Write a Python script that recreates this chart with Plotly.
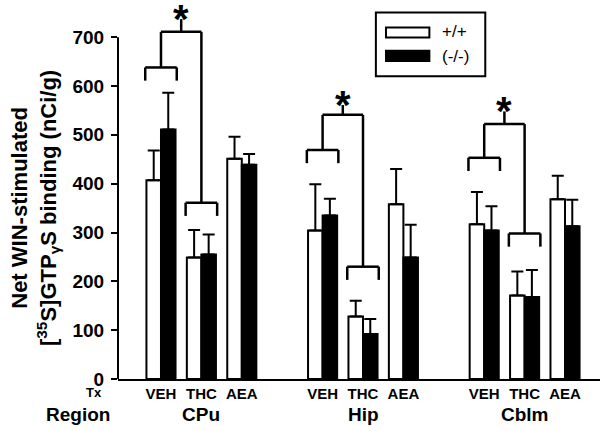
import plotly.graph_objects as go

regions = ["CPu", "Hip", "Cblm"]
treatments = ["VEH", "THC", "AEA"]
wt_mean = [407, 249, 451, 304, 128, 358, 317, 171, 368]
wt_sem = [61, 56, 45, 95, 32, 72, 66, 49, 48]
ko_mean = [511, 255, 439, 335, 92, 249, 304, 168, 313]
ko_sem = [75, 41, 22, 34, 31, 67, 50, 55, 54]
# significance bracket heights per region (data units)
veh_bracket = [638, 469, 453]
thc_bracket = [361, 230, 298]
top_bracket = [711, 541, 522]
star_y = [737, 561, 548]
y_ticks = [0, 100, 200, 300, 400, 500, 600, 700]

FONT = "Liberation Sans, Arial, sans-serif"
xpos = [g * 4 + t for g in range(len(regions)) for t in range(len(treatments))]
ticktext = [t for _ in regions for t in treatments]
W = 0.36

fig = go.Figure()
fig.add_trace(go.Bar(
    x=xpos, y=wt_mean, width=W, offset=-W, name="+/+",
    marker=dict(color="white", line=dict(color="black", width=2)),
    error_y=dict(type="data", array=wt_sem, arrayminus=[0] * len(wt_sem),
                 symmetric=False, color="black", thickness=2, width=6),
    showlegend=False))
fig.add_trace(go.Bar(
    x=xpos, y=ko_mean, width=W, offset=0, name="(-/-)",
    marker=dict(color="black", line=dict(color="black", width=2)),
    error_y=dict(type="data", array=ko_sem, arrayminus=[0] * len(ko_sem),
                 symmetric=False, color="black", thickness=2, width=6),
    showlegend=False))

shapes = []
LW = 2.5
HW = 0.39
LEG = 27


def seg(x0, y0, x1, y1, w=LW):
    shapes.append(dict(type="line", xref="x", yref="y", x0=x0, y0=y0, x1=x1, y1=y1,
                       line=dict(color="black", width=w), layer="above"))


for g in range(len(regions)):
    xv = g * 4
    xt = g * 4 + 1
    # VEH bracket
    seg(xv - HW, veh_bracket[g], xv + HW, veh_bracket[g])
    seg(xv - HW, veh_bracket[g], xv - HW, veh_bracket[g] - LEG)
    seg(xv + HW, veh_bracket[g], xv + HW, veh_bracket[g] - LEG)
    # THC bracket
    seg(xt - HW, thc_bracket[g], xt + HW, thc_bracket[g])
    seg(xt - HW, thc_bracket[g], xt - HW, thc_bracket[g] - LEG)
    seg(xt + HW, thc_bracket[g], xt + HW, thc_bracket[g] - LEG)
    # connecting bracket
    seg(xv, veh_bracket[g], xv, top_bracket[g])
    seg(xt, thc_bracket[g], xt, top_bracket[g])
    seg(xv, top_bracket[g], xt, top_bracket[g])
    seg((xv + xt) / 2, top_bracket[g], (xv + xt) / 2, star_y[g])

# y axis line from 0 to 700 only
shapes.append(dict(type="line", xref="paper", yref="y", x0=0, x1=0, y0=0, y1=700,
                   line=dict(color="black", width=2)))

# legend box (manual)
shapes.append(dict(type="rect", xref="paper", yref="paper", x0=0.535, x1=0.762,
                   y0=0.805, y1=0.975, line=dict(color="black", width=2),
                   fillcolor="white"))
shapes.append(dict(type="rect", xref="paper", yref="paper", x0=0.556, x1=0.646,
                   y0=0.908, y1=0.935, line=dict(color="black", width=2),
                   fillcolor="white"))
shapes.append(dict(type="rect", xref="paper", yref="paper", x0=0.556, x1=0.646,
                   y0=0.846, y1=0.873, line=dict(color="black", width=2),
                   fillcolor="black"))

annotations = []
for g in range(len(regions)):
    annotations.append(dict(x=g * 4 + 0.5, y=star_y[g], xref="x", yref="y",
                            text="*", showarrow=False, yanchor="middle", yshift=0,
                            font=dict(family=FONT, size=40, color="black", weight="bold")))
    annotations.append(dict(x=g * 4 + 1, y=-0.0957, xref="x", yref="paper",
                            text=regions[g], showarrow=False, yanchor="middle",
                            font=dict(family=FONT, size=19, color="black", weight="bold")))

annotations += [
    dict(x=0.668, y=0.923, xref="paper", yref="paper", text="+/+", showarrow=False,
         xanchor="left", yanchor="middle", font=dict(family=FONT, size=17, color="black")),
    dict(x=0.668, y=0.859, xref="paper", yref="paper", text="(-/-)", showarrow=False,
         xanchor="left", yanchor="middle", font=dict(family=FONT, size=17, color="black")),
    dict(x=-0.1535, y=-0.0957, xref="paper", yref="paper", text="Region", showarrow=False,
         yanchor="middle", font=dict(family=FONT, size=19, color="black", weight="bold")),
    dict(x=-0.0705, y=-0.037, xref="paper", yref="paper", text="Tx", showarrow=False,
         yanchor="middle", font=dict(family=FONT, size=13, color="black", weight="bold")),
    dict(x=-0.172, y=0.455, xref="paper", yref="paper", textangle=-90,
         text="Net WIN-stimulated<br>[<sup>35</sup>S]GTP<sub>γ</sub>S binding (nCi/g)",
         showarrow=False, xanchor="center", yanchor="middle",
         font=dict(family=FONT, size=22, color="black", weight="bold")),
]

fig.update_layout(
    width=600, height=431,
    margin=dict(l=118, r=0, t=3, b=52),
    paper_bgcolor="white", plot_bgcolor="white",
    barmode="overlay",
    shapes=shapes, annotations=annotations,
    xaxis=dict(range=[-1.064, 10.866], tickvals=xpos, ticktext=ticktext,
               showline=True, linecolor="black", linewidth=2, ticks="",
               showgrid=False, zeroline=False,
               tickfont=dict(family=FONT, size=15, color="black", weight="bold")),
    yaxis=dict(range=[0, 770], tickvals=y_ticks, showline=False,
               ticks="outside", ticklen=6, tickwidth=2, tickcolor="black",
               ticklabelstandoff=3,
               showgrid=False, zeroline=False,
               tickfont=dict(family=FONT, size=19, color="black", weight="bold")),
)

fig.write_html("out.html", config={"displayModeBar": False},
               post_script="document.body.style.margin='0';document.body.style.overflow='hidden';")
